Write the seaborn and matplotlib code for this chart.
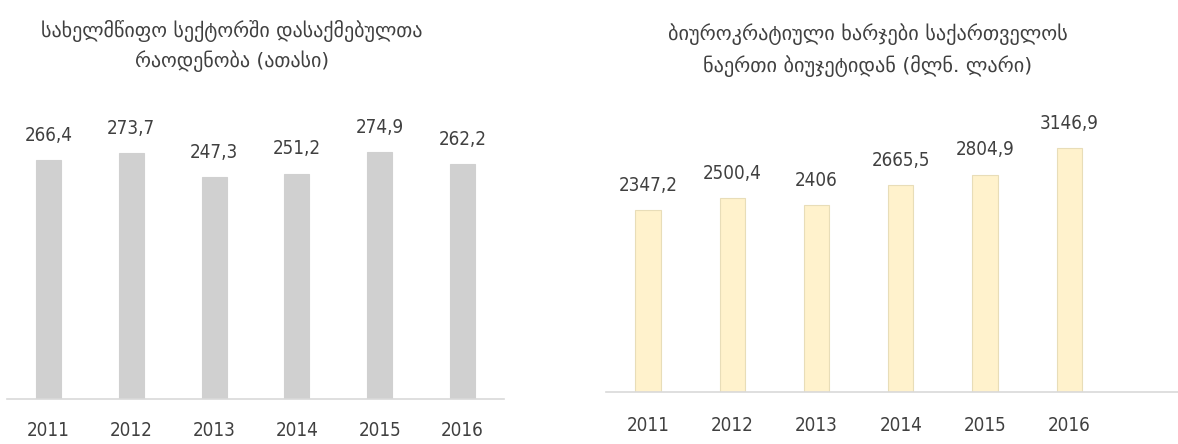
import matplotlib
matplotlib.use("Agg")
import matplotlib.pyplot as plt
import seaborn as sns
import pandas as pd
import os
from matplotlib import font_manager as fm

years = ["2011", "2012", "2013", "2014", "2015", "2016"]
employees = [266.4, 273.7, 247.3, 251.2, 274.9, 262.2]
expenses = [2347.2, 2500.4, 2406, 2665.5, 2804.9, 3146.9]
title_left = "სახელმწიფო სექტორში დასაქმებულთა\nრაოდენობა (ათასი)"
title_right = "ბიუროკრატიული ხარჯები საქართველოს\nნაერთი ბიუჯეტიდან (მლნ. ლარი)"

sns.set_style("white")
plt.rcParams['font.family'] = ['DejaVu Sans']

W, H = 1178, 444
fig = plt.figure(figsize=(W / 100, H / 100), dpi=100)

def fmt(v):
    if float(v).is_integer():
        return str(int(v))
    return f"{v:.1f}".replace(".", ",")

text_col = "#404040"

def pick_font():
    files = [f.fname for f in fm.fontManager.ttflist]
    prefs = ["LiberationSansNarrow-Regular", "DejaVuSansCondensed.ttf"]
    for p in prefs:
        for f in files:
            if os.path.basename(f).startswith(p) or os.path.basename(f) == p:
                return f
    for f in fm.fontManager.ttflist:
        b = os.path.basename(f.fname)
        if ('Condensed' in b or 'Narrow' in b) and 'Bold' not in b and 'Oblique' not in b \
                and 'Italic' not in b and f.weight in (400, 'normal', 'regular'):
            return f.fname
    return None

fpath = pick_font()
if fpath:
    num_fp = fm.FontProperties(fname=fpath, size=13.5)
else:
    num_fp = fm.FontProperties(family='Roboto', size=13.5)

def make(ax_px, vals, ymax, color, edge, xmax, pad):
    x0, x1, ybase, ytop = ax_px
    ax = fig.add_axes([x0 / W, 1 - ybase / H, (x1 - x0) / W, (ybase - ytop) / H])
    df = pd.DataFrame({"year": years, "val": vals})
    sns.barplot(data=df, x="year", y="val", ax=ax, color=color, width=0.3,
                edgecolor=edge, linewidth=0.8, saturation=1)
    ax.set_ylim(0, ymax)
    ax.set_xlim(-0.5, xmax)
    for s in ["top", "right", "left"]:
        ax.spines[s].set_visible(False)
    ax.spines["bottom"].set_color("#D9D9D9")
    ax.spines["bottom"].set_linewidth(1.2)
    ax.set_yticks([])
    ax.set_xlabel("")
    ax.set_ylabel("")
    ax.tick_params(axis="x", length=0, pad=pad, labelcolor=text_col)
    for lab in ax.get_xticklabels():
        lab.set_fontproperties(num_fp)
    ax.bar_label(ax.containers[0], labels=[fmt(v) for v in vals], padding=11,
                 color=text_col, fontproperties=num_fp)
    return ax

make((7, 504, 399, 120), employees, 311, "#D0D0D0", "#D0D0D0", 5.5, 16)
make((606, 1178, 392, 120), expenses, 3508, "#FFF2CC", "#E8DDB8", 6.29, 17)

fig.text(232 / W, 1 - 46 / H, title_left, ha="center", va="center", fontsize=14.4,
         color="#404040", linespacing=1.55, family=['DejaVu Sans'])
fig.text(868 / W, 1 - 50 / H, title_right, ha="center", va="center", fontsize=14.6,
         color="#404040", linespacing=1.6, family=['DejaVu Sans'])

fig.savefig("out.png", dpi=100)
